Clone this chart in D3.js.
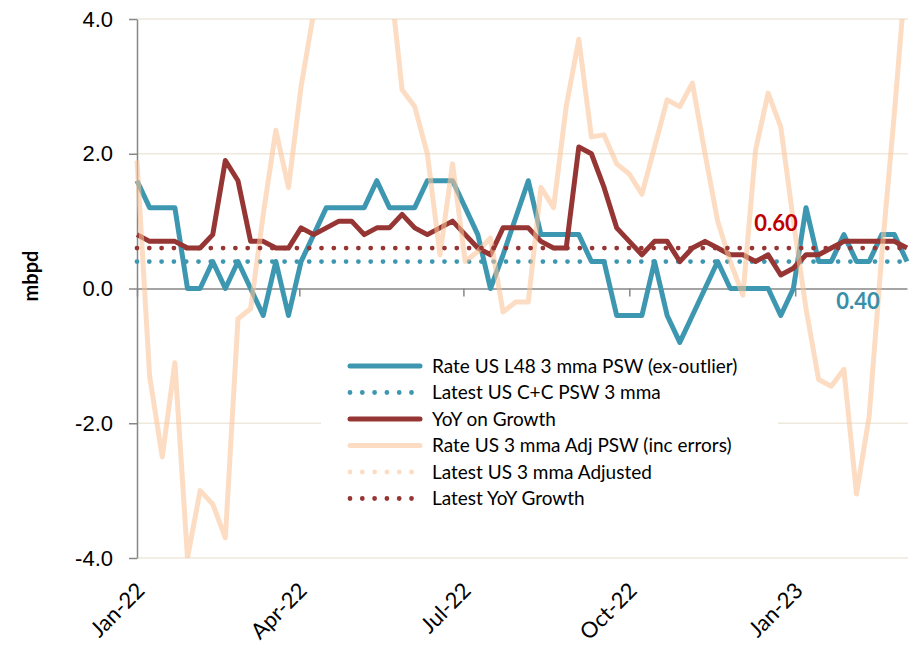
<!DOCTYPE html>
<html lang="en">
<head>
<meta charset="UTF-8" />
<title>US crude production growth</title>
<script src="https://cdnjs.cloudflare.com/ajax/libs/d3/7.9.0/d3.min.js"></script>
<style>
    body { margin: 0; background: #fff; }
    svg { display: block; font-family: Lato, "Open Sans", sans-serif; }
    .tickText { font-size: 22px; fill: #000; }
    .legendText { font-size: 19px; fill: #000; }
    .axisLine { stroke: #878787; stroke-width: 1.5px; fill: none; }
    .grid { stroke: #efe8dc; stroke-width: 1.5px; }
</style>
</head>
<body>
<svg width="913" height="649"></svg>
<script>
// weekly observations, Jan-22 .. early Mar-23
const weekCount = 62;
const firstWeek = new Date(2022, 0, 1);
const weeks = d3.range(weekCount).map((i) => d3.timeDay.offset(firstWeek, 7 * i));

const rateL48 = [1.6, 1.2, 1.2, 1.2, 0, 0, 0.4, 0, 0.4, 0, -0.4, 0.4, -0.4, 0.4, 0.8, 1.2,
    1.2, 1.2, 1.2, 1.6, 1.2, 1.2, 1.2, 1.6, 1.6, 1.6, 1.2, 0.8, 0, 0.5, 1.05, 1.6,
    0.8, 0.8, 0.8, 0.8, 0.4, 0.4, -0.4, -0.4, -0.4, 0.4, -0.4, -0.8, -0.4, 0, 0.4,
    0, 0, 0, 0, -0.4, 0, 1.2, 0.4, 0.4, 0.8, 0.4, 0.4, 0.8, 0.8, 0.4];
const yoyGrowth = [0.8, 0.7, 0.7, 0.7, 0.6, 0.6, 0.8, 1.9, 1.6, 0.7, 0.7, 0.6, 0.6, 0.9, 0.8, 0.9,
    1.0, 1.0, 0.8, 0.9, 0.9, 1.1, 0.9, 0.8, 0.9, 1.0, 0.8, 0.6, 0.5, 0.9, 0.9, 0.9,
    0.7, 0.6, 0.6, 2.1, 2.0, 1.5, 0.9, 0.7, 0.5, 0.7, 0.7, 0.4, 0.6, 0.7, 0.6,
    0.5, 0.5, 0.4, 0.5, 0.2, 0.3, 0.5, 0.5, 0.6, 0.7, 0.7, 0.7, 0.7, 0.7, 0.6];
const rateAdj = [1.9, -1.3, -2.5, -1.1, -4.0, -3.0, -3.2, -3.7, -0.45, -0.3, 1.1, 2.35, 1.5, 3.0, 4.1, 5.2,
    5.8, 6.1, 5.5, 5.0, 4.7, 2.95, 2.7, 2.0, 0.5, 1.85, 0.4, 0.55, 0.75, -0.35, -0.2, -0.2,
    1.5, 1.2, 2.7, 3.7, 2.25, 2.28, 1.85, 1.7, 1.4, 2.1, 2.8, 2.7, 3.05, 2.0, 1.0,
    0.4, -0.1, 2.05, 2.9, 2.4, 1.0, -0.3, -1.35, -1.45, -1.2, -3.05, -1.9, 0.5, 2.6, 4.9];

const latestCC = 0.4;
const latestAdj = 4.9;
const latestYoY = 0.6;

const yTicks = [-4, -2, 0, 2, 4];
const gridTicks = [-4, -2, 2, 4];

const teal = "#3d97b0";
const brick = "#963634";
const peach = "rgba(249, 196, 152, 0.58)";

const legendItems = [
    { name: "Rate US L48 3 mma PSW (ex-outlier)", color: teal, dotted: false },
    { name: "Latest US C+C PSW 3 mma", color: teal, dotted: true },
    { name: "YoY on Growth", color: brick, dotted: false },
    { name: "Rate US 3 mma Adj PSW (inc errors)", color: peach, dotted: false },
    { name: "Latest US 3 mma Adjusted", color: peach, dotted: true },
    { name: "Latest YoY Growth", color: brick, dotted: true },
];

const svg = d3.select("svg");
const plot = { left: 137, right: 907, top: 19, bottom: 558 };

const x = d3.scaleTime().domain([firstWeek, weeks[weekCount - 1]]).range([plot.left, plot.right]);
const y = d3.scaleLinear().domain([-4, 4]).range([plot.bottom, plot.top]);

svg.append("defs").append("clipPath").attr("id", "clip")
    .append("rect")
    .attr("x", plot.left - 10).attr("y", plot.top)
    .attr("width", plot.right - plot.left + 20).attr("height", plot.bottom - plot.top);

// gridlines
svg.append("g").selectAll("line").data(gridTicks).join("line")
    .attr("class", "grid")
    .attr("x1", plot.left).attr("x2", plot.right + 1)
    .attr("y1", (d) => y(d)).attr("y2", (d) => y(d));

// zero line with quarter ticks
const xAxis = svg.append("g")
    .attr("transform", `translate(0,${y(0)})`)
    .call(d3.axisBottom(x).ticks(d3.timeMonth.every(3)).tickSize(8).tickSizeOuter(0).tickFormat(""));
xAxis.select(".domain").attr("class", "axisLine");
xAxis.selectAll(".tick line").attr("stroke", "#878787").attr("stroke-width", 1.5);

// y axis
const yAxis = svg.append("g")
    .attr("transform", `translate(${plot.left},0)`)
    .call(d3.axisLeft(y).tickValues(yTicks).tickSize(8).tickSizeOuter(0).tickPadding(16)
        .tickFormat((d) => d.toFixed(1)));
yAxis.select(".domain").attr("class", "axisLine");
yAxis.selectAll(".tick line").attr("stroke", "#878787").attr("stroke-width", 1.5);
yAxis.selectAll(".tick text").attr("class", "tickText").attr("font-family", null).attr("font-size", null);

// month labels along the bottom
svg.append("g").selectAll("text").data(x.ticks(d3.timeMonth.every(3))).join("text")
    .attr("class", "tickText")
    .attr("font-size", 23)
    .attr("text-anchor", "end")
    .attr("transform", (d) => `translate(${x(d) + 9},${plot.bottom + 34}) rotate(-45)`)
    .text(d3.timeFormat("%b-%y"));

svg.append("text")
    .attr("transform", `translate(38,276) rotate(-90)`)
    .attr("text-anchor", "middle")
    .attr("font-size", 20)
    .attr("font-weight", 700)
    .text("mbpd");

// series
const chart = svg.append("g").attr("clip-path", "url(#clip)");
const line = d3.line().x((d, i) => x(weeks[i])).y((d) => y(d));
const flat = (v) => weeks.map(() => v);

const drawSolid = (values, color) =>
    chart.append("path").datum(values)
        .attr("fill", "none").attr("stroke", color).attr("stroke-width", 5)
        .attr("stroke-linejoin", "round").attr("d", line);
const drawDotted = (values, color) =>
    chart.append("path").datum(values)
        .attr("fill", "none").attr("stroke", color).attr("stroke-width", 4.8)
        .attr("stroke-linecap", "round").attr("stroke-dasharray", "0 12.3").attr("d", line);

drawSolid(rateL48, teal);
drawDotted(flat(latestCC), teal);
drawSolid(yoyGrowth, brick);
drawSolid(rateAdj, peach);
drawDotted(flat(latestAdj), peach);
drawDotted(flat(latestYoY), brick);

// value callouts
svg.append("text")
    .attr("x", 776).attr("y", y(latestYoY) - 17)
    .attr("text-anchor", "middle").attr("font-size", 22).attr("font-weight", 700)
    .attr("fill", "#c00000").text(latestYoY.toFixed(2));
svg.append("text")
    .attr("x", 858).attr("y", y(latestCC) + 47)
    .attr("text-anchor", "middle").attr("font-size", 22).attr("font-weight", 700)
    .attr("fill", "#3a8fa8").text(latestCC.toFixed(2));

// legend
const legend = svg.append("g");
legend.append("rect")
    .attr("x", 321).attr("y", 352).attr("width", 457).attr("height", 163).attr("fill", "#fff");
const rows = legend.selectAll("g.row").data(legendItems).join("g")
    .attr("class", "row")
    .attr("transform", (d, i) => `translate(0,${366 + i * 26.5})`);
rows.append("line")
    .attr("x1", 350).attr("x2", 420)
    .attr("stroke", (d) => d.color)
    .attr("stroke-width", (d) => (d.dotted ? 4.8 : 5))
    .attr("stroke-linecap", "round")
    .attr("stroke-dasharray", (d) => (d.dotted ? "0 12.3" : null));
rows.append("text")
    .attr("class", "legendText")
    .attr("x", 432).attr("dy", "0.35em")
    .text((d) => d.name);
</script>
</body>
</html>
